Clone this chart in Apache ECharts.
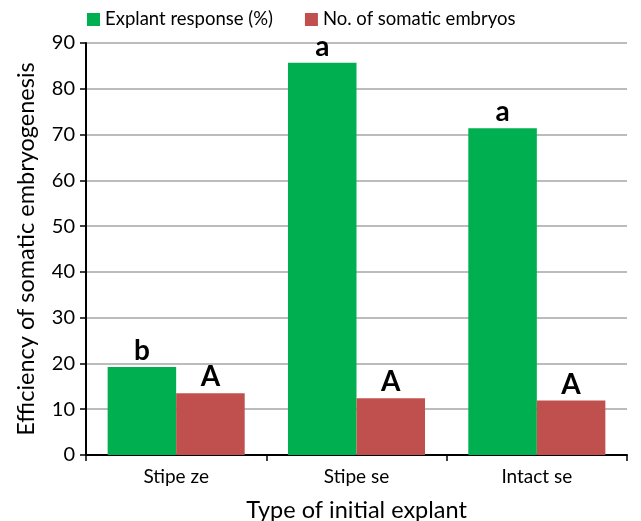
<!DOCTYPE html>
<html>
<head>
<meta charset="utf-8">
<script src="https://cdn.jsdelivr.net/npm/echarts@6/dist/echarts.min.js"></script>
<style>
  html, body { margin: 0; padding: 0; background: #fff; }
  #chart { width: 641px; height: 521px; }
</style>
</head>
<body>
<div id="chart"></div>
<script>
// data
var categories = ['Stipe ze', 'Stipe se', 'Intact se'];
var explantResponse = [19.2, 85.7, 71.4];
var somaticEmbryos = [13.5, 12.4, 11.9];
var responseLetters = ['b', 'a', 'a'];
var embryoLetters = ['A', 'A', 'A'];
var yTicks = [0, 10, 20, 30, 40, 50, 60, 70, 80, 90];

var font = 'Lato, "Open Sans", sans-serif';

var myChart = echarts.init(document.getElementById('chart'));
var option = {
    animation: false,
    legend: {
        top: 5,
        left: 82,
        itemWidth: 13,
        itemHeight: 13,
        itemGap: 32,
        icon: 'rect',
        textStyle: { fontFamily: font, fontSize: 18.5, color: '#000' },
        data: ['Explant response (%)', 'No. of somatic embryos']
    },
    grid: { left: 86, right: 14, top: 43, bottom: 66, outerBoundsMode: 'none' },
    xAxis: {
        type: 'category',
        data: categories,
        name: 'Type of initial explant',
        nameLocation: 'middle',
        nameGap: 43,
        nameTextStyle: { fontFamily: font, fontSize: 23.5, color: '#000' },
        axisLine: { lineStyle: { color: '#000', width: 2 } },
        axisTick: { show: true, alignWithLabel: false, length: 6, lineStyle: { color: '#000', width: 1.5 } },
        axisLabel: { fontFamily: font, fontSize: 19, color: '#000', margin: 12 }
    },
    yAxis: {
        type: 'value',
        min: yTicks[0],
        max: yTicks[yTicks.length - 1],
        interval: 10,
        name: 'Efficiency of somatic embryogenesis',
        nameLocation: 'middle',
        nameGap: 48,
        nameTextStyle: { fontFamily: font, fontSize: 23.5, color: '#000' },
        axisLine: { show: true, lineStyle: { color: '#000', width: 2 } },
        axisTick: { show: true, length: 6, lineStyle: { color: '#000', width: 1.5 } },
        axisLabel: { fontFamily: font, fontSize: 20, color: '#000', margin: 11 },
        splitLine: { show: true, lineStyle: { color: '#a6a6a6', width: 1.5 } }
    },
    series: [
        {
            name: 'Explant response (%)',
            type: 'bar',
            barGap: '0%',
            barCategoryGap: '24%',
            data: explantResponse,
            itemStyle: { color: '#00b050' },
            label: {
                show: true,
                position: 'top',
                distance: 2,
                fontFamily: font,
                fontSize: 28,
                fontWeight: 'bold',
                color: '#000',
                formatter: function (p) { return responseLetters[p.dataIndex]; }
            }
        },
        {
            name: 'No. of somatic embryos',
            type: 'bar',
            data: somaticEmbryos,
            itemStyle: { color: '#c0504d' },
            label: {
                show: true,
                position: 'top',
                distance: 2,
                fontFamily: font,
                fontSize: 28,
                fontWeight: 'bold',
                color: '#000',
                formatter: function (p) { return embryoLetters[p.dataIndex]; }
            }
        }
    ]
};
myChart.setOption(option);
</script>
</body>
</html>
